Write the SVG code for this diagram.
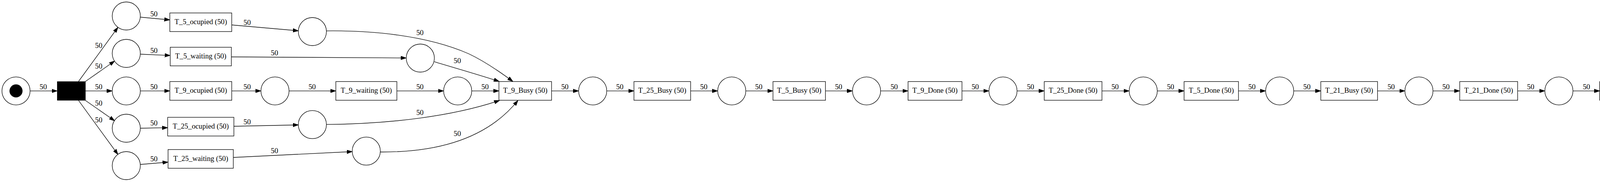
<svg xmlns="http://www.w3.org/2000/svg" width="5201" height="467" viewBox="0 0 5201 467">
<style>
.pl{fill:#fff;stroke:#000;stroke-width:1.33}
.tr{fill:#fff;stroke:#000;stroke-width:1.33}
.e{fill:none;stroke:#000;stroke-width:1.33;marker-end:url(#ah)}
text{font-family:"Liberation Serif","Times New Roman",serif;font-size:18.67px;fill:#000;text-anchor:middle}
</style>
<defs>
<marker id="ah" markerWidth="14" markerHeight="10" refX="14" refY="5" orient="auto" markerUnits="userSpaceOnUse"><path d="M0,0.3 L14,5 L0,9.7 z" fill="#000" stroke="#000" stroke-width="1"/></marker>
</defs>
<rect width="5201" height="467" fill="#fff"/>
<g id="connectors">
<path class="e" d="M77.3,233.3 L146.7,233.3"/><text x="110.7" y="229.3">50</text>
<path class="e" d="M201,209 L302,70"/><text x="252.7" y="123">50</text>
<path class="e" d="M218.7,209 L293.5,156.5"/><text x="252.7" y="176.3">50</text>
<path class="e" d="M218.7,233.3 L287.3,233.3"/><text x="252.7" y="229.3">50</text>
<path class="e" d="M218.7,257.7 L293.5,310"/><text x="252.7" y="270.6">50</text>
<path class="e" d="M201,257.7 L302,396.5"/><text x="252.7" y="313.6">50</text>
<path class="e" d="M359.3,44 L434.7,51"/><text x="394" y="42.3">50</text>
<path class="e" d="M359.3,139 L435.7,142.3"/><text x="394" y="135.6">50</text>
<path class="e" d="M359.3,233.3 L434.7,233.3"/><text x="394" y="229.3">50</text>
<path class="e" d="M359.3,329 L429.3,327.7"/><text x="394" y="322.3">50</text>
<path class="e" d="M359.3,422 L430.3,416"/><text x="394" y="413.6">50</text>
<path class="e" d="M593.3,64 L764,79"/><text x="632.7" y="63.6">50</text>
<path class="e" d="M592.3,146 L1040,148.7"/><text x="702.7" y="142.3">50</text>
<path class="e" d="M593.3,233.3 L668,233.3"/><text x="632.7" y="229.3">50</text>
<path class="e" d="M598.7,324 L764,320.5"/><text x="632.7" y="318.6">50</text>
<path class="e" d="M597.3,404 L901.7,389"/><text x="702.7" y="393">50</text>
<path class="e" d="M740,233.3 L859.7,233.3"/><text x="799" y="229.3">50</text>
<path class="e" d="M1016,233.3 L1135.7,233.3"/><text x="1075" y="229.3">50</text>
<path class="e" d="M1207.7,233.3 L1277.3,233.3"/><text x="1241.7" y="229.3">50</text>
<path class="e" d="M835.7,79.3 C950,78 1090,90 1200,138 C1240,157 1278,183 1313,209"/><text x="1075" y="89.6">50</text>
<path class="e" d="M1111.7,158.3 C1170,176 1230,193 1278,209"/><text x="1170.7" y="161.6">50</text>
<path class="e" d="M835.7,319.3 C1000,318 1160,298 1279,257.7"/><text x="1075" y="294.6">50</text>
<path class="e" d="M974,390 C1100,391 1240,365 1326,257.7"/><text x="1170.7" y="349">50</text>
<path class="e" d="M1412,233.3 L1481.3,233.3"/><text x="1446" y="229.3">50</text>
<path class="e" d="M1553.3,233.3 L1622.9,233.3"/><text x="1586.7" y="229.3">50</text>
<path class="e" d="M1768,233.3 L1837.3,233.3"/><text x="1801.7" y="229.3">50</text>
<path class="e" d="M1909.3,233.3 L1978.8,233.3"/><text x="1942.4" y="229.3">50</text>
<path class="e" d="M2113.2,233.3 L2182.4,233.3"/><text x="2146.8" y="229.3">50</text>
<path class="e" d="M2254.4,233.3 L2324.6,233.3"/><text x="2289" y="229.3">50</text>
<path class="e" d="M2462.6,233.3 L2531.7,233.3"/><text x="2496.6" y="229.3">50</text>
<path class="e" d="M2603.7,233.3 L2673.3,233.3"/><text x="2638.1" y="229.3">50</text>
<path class="e" d="M2821,233.3 L2890.7,233.3"/><text x="2854.6" y="229.3">50</text>
<path class="e" d="M2962.7,233.3 L3031.3,233.3"/><text x="2996.5" y="229.3">50</text>
<path class="e" d="M3170.5,233.3 L3240,233.3"/><text x="3204.9" y="229.3">50</text>
<path class="e" d="M3312,233.3 L3381.3,233.3"/><text x="3345.7" y="229.3">50</text>
<path class="e" d="M3526.5,233.3 L3596.5,233.3"/><text x="3561.3" y="229.3">50</text>
<path class="e" d="M3668.5,233.3 L3736.9,233.3"/><text x="3701.7" y="229.3">50</text>
<path class="e" d="M3885.2,233.3 L3954.8,233.3"/><text x="3918.4" y="229.3">50</text>
<path class="e" d="M4026.8,233.3 L4095.3,233.3"/><text x="4061.3" y="229.3">50</text>
<path class="e" d="M4241.2,233.3 L4310.8,233.3"/><text x="4274" y="229.3">50</text>
<path class="e" d="M4382.8,233.3 L4452,233.3"/><text x="4416.4" y="229.3">50</text>
<path class="e" d="M4599.8,233.3 L4669.4,233.3"/><text x="4633.7" y="229.3">50</text>
<path class="e" d="M4741.4,233.3 L4810.4,233.3"/><text x="4774.8" y="229.3">50</text>
<path class="e" d="M5043.8,233.3 L5114,233.3"/><text x="5078.3" y="229.3">50</text>
</g>
<g id="start"><circle class="pl" cx="41" cy="233.3" r="36"/><circle cx="41" cy="233.3" r="16.7" fill="#000"/></g>
<g id="t_split"><rect x="146.7" y="209.3" width="72" height="48" fill="#000" stroke="#000"/></g>
<g id="p1"><circle class="pl" cx="323.3" cy="41" r="36"/></g>
<g id="p2"><circle class="pl" cx="323.3" cy="137" r="36"/></g>
<g id="p3"><circle class="pl" cx="323.3" cy="233.3" r="36"/></g>
<g id="p4"><circle class="pl" cx="323.3" cy="329" r="36"/></g>
<g id="p5"><circle class="pl" cx="323.3" cy="425" r="36"/></g>
<g id="t5oc"><rect class="tr" x="434.7" y="33.3" width="158.6" height="47.7"/><text x="514" y="62.3">T_5_ocupied (50)</text></g>
<g id="t5wa"><rect class="tr" x="435.7" y="121.3" width="156.6" height="47.7"/><text x="514" y="150.3">T_5_waiting (50)</text></g>
<g id="t9oc"><rect class="tr" x="434.7" y="209.3" width="158.6" height="48"/><text x="514" y="238.3">T_9_ocupied (50)</text></g>
<g id="t25oc"><rect class="tr" x="429.3" y="301" width="169.4" height="48"/><text x="514" y="330">T_25_ocupied (50)</text></g>
<g id="t25wa"><rect class="tr" x="430.3" y="383.7" width="167" height="48"/><text x="514" y="412.7">T_25_waiting (50)</text></g>
<g id="p6"><circle class="pl" cx="799.7" cy="81" r="36"/></g>
<g id="p7"><circle class="pl" cx="1076" cy="149" r="36"/></g>
<g id="p8"><circle class="pl" cx="704" cy="233.3" r="36"/></g>
<g id="p9"><circle class="pl" cx="799.7" cy="319.7" r="36"/></g>
<g id="p10"><circle class="pl" cx="937.7" cy="387.7" r="36"/></g>
<g id="t9wa"><rect class="tr" x="859.7" y="209.3" width="156.3" height="48"/><text x="937.8" y="238.3">T_9_waiting (50)</text></g>
<g id="p11"><circle class="pl" cx="1171.7" cy="233.3" r="36"/></g>
<g id="t9busy"><rect class="tr" x="1277.3" y="209.3" width="134.7" height="48"/><text x="1344.7" y="238.3">T_9_Busy (50)</text></g>
<g id="p12"><circle class="pl" cx="1517.3" cy="233.3" r="36"/></g>
<g id="t25busy"><rect class="tr" x="1622.9" y="209.3" width="145.1" height="48"/><text x="1695.5" y="238.3">T_25_Busy (50)</text></g>
<g id="p13"><circle class="pl" cx="1873.3" cy="233.3" r="36"/></g>
<g id="t5busy"><rect class="tr" x="1978.8" y="209.3" width="134.4" height="48"/><text x="2046" y="238.3">T_5_Busy (50)</text></g>
<g id="p14"><circle class="pl" cx="2218.4" cy="233.3" r="36"/></g>
<g id="t9done"><rect class="tr" x="2324.6" y="209.3" width="138" height="48"/><text x="2393.6" y="238.3">T_9_Done (50)</text></g>
<g id="p15"><circle class="pl" cx="2567.7" cy="233.3" r="36"/></g>
<g id="t25done"><rect class="tr" x="2673.3" y="209.3" width="147.7" height="48"/><text x="2747.1" y="238.3">T_25_Done (50)</text></g>
<g id="p16"><circle class="pl" cx="2926.7" cy="233.3" r="36"/></g>
<g id="t5done"><rect class="tr" x="3031.3" y="209.3" width="139.2" height="48"/><text x="3100.9" y="238.3">T_5_Done (50)</text></g>
<g id="p17"><circle class="pl" cx="3276" cy="233.3" r="36"/></g>
<g id="t21busy"><rect class="tr" x="3381.3" y="209.3" width="145.2" height="48"/><text x="3453.9" y="238.3">T_21_Busy (50)</text></g>
<g id="p18"><circle class="pl" cx="3632.5" cy="233.3" r="36"/></g>
<g id="t21done"><rect class="tr" x="3736.9" y="209.3" width="148.3" height="48"/><text x="3811" y="238.3">T_21_Done (50)</text></g>
<g id="p19"><circle class="pl" cx="3990.8" cy="233.3" r="36"/></g>
<g id="t16busy"><rect class="tr" x="4095.3" y="209.3" width="145.9" height="48"/><text x="4168.2" y="238.3">T_16_Busy (50)</text></g>
<g id="p20"><circle class="pl" cx="4346.8" cy="233.3" r="36"/></g>
<g id="t16done"><rect class="tr" x="4452" y="209.3" width="147.8" height="48"/><text x="4525.9" y="238.3">T_16_Done (50)</text></g>
<g id="p21"><circle class="pl" cx="4705.4" cy="233.3" r="36"/></g>
<g id="tsim"><rect class="tr" x="4810.4" y="209.3" width="233.4" height="48"/><text x="4927.1" y="238.3">simulation_successful (50)</text></g>
<g id="end"><circle class="pl" cx="5155" cy="233.3" r="41"/><circle class="pl" cx="5155" cy="233.3" r="37"/><rect x="5138.6" y="216.9" width="32" height="32" fill="#000"/></g>
</svg>
